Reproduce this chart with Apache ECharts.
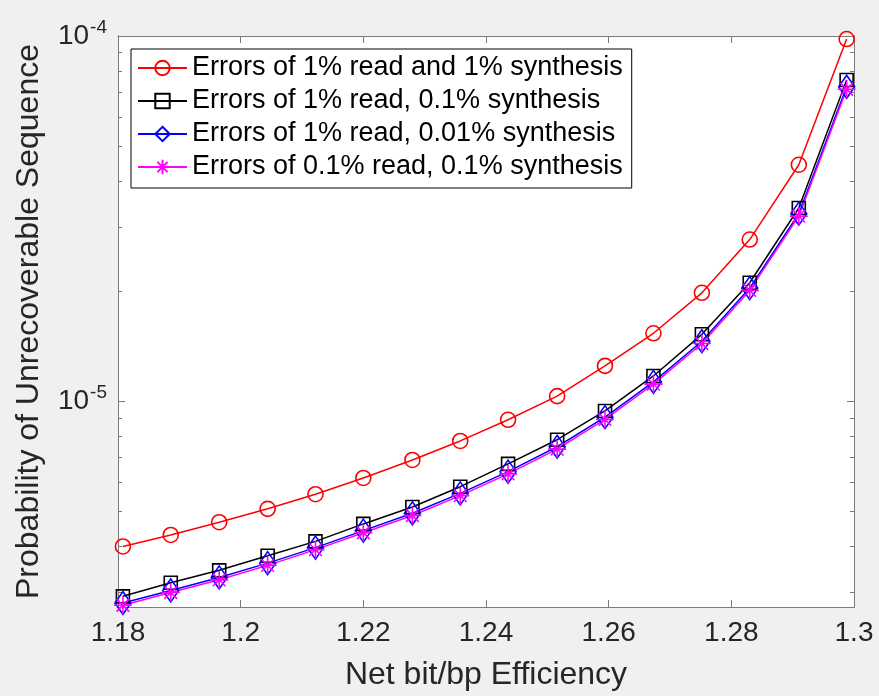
<!DOCTYPE html>
<html>
<head>
<meta charset="utf-8">
<script src="https://cdn.jsdelivr.net/npm/echarts@6/dist/echarts.min.js"></script>
<style>
  html, body { margin: 0; padding: 0; background: #f0f0f0; }
  #chart { width: 879px; height: 696px; }
</style>
</head>
<body>
<div id="chart"></div>
<script>
// net bit/bp efficiency (x)
const efficiency = [1.1808, 1.1886, 1.1965, 1.2044, 1.2122, 1.2200, 1.2280, 1.2358,
  1.2436, 1.2516, 1.2594, 1.2673, 1.2752, 1.2830, 1.2910, 1.2988];

// probability of unrecoverable sequence, one list per error setting
const read1Synth1 = [4.00e-6, 4.30e-6, 4.66e-6, 5.07e-6, 5.56e-6, 6.16e-6, 6.90e-6, 7.78e-6,
  8.89e-6, 1.032e-5, 1.249e-5, 1.534e-5, 1.98e-5, 2.77e-5, 4.44e-5, 9.81e-5];
const read1Synth01 = [2.92e-6, 3.18e-6, 3.44e-6, 3.77e-6, 4.13e-6, 4.61e-6, 5.13e-6, 5.83e-6,
  6.73e-6, 7.84e-6, 9.40e-6, 1.172e-5, 1.524e-5, 2.11e-5, 3.38e-5, 7.58e-5];
const read1Synth001 = [2.80e-6, 3.03e-6, 3.29e-6, 3.60e-6, 3.97e-6, 4.42e-6, 4.93e-6, 5.59e-6,
  6.41e-6, 7.50e-6, 9.04e-6, 1.129e-5, 1.459e-5, 2.04e-5, 3.26e-5, 7.26e-5];
const read01Synth01 = [2.76e-6, 2.99e-6, 3.24e-6, 3.55e-6, 3.92e-6, 4.36e-6, 4.86e-6, 5.51e-6,
  6.32e-6, 7.39e-6, 8.91e-6, 1.113e-5, 1.438e-5, 2.01e-5, 3.21e-5, 7.15e-5];

const seriesNames = [
  "Errors of 1% read and 1% synthesis",
  "Errors of 1% read, 0.1% synthesis",
  "Errors of 1% read, 0.01% synthesis",
  "Errors of 0.1% read, 0.1% synthesis",
];

// axis ticks
const xMin = 1.18, xMax = 1.3, xStep = 0.02;
const yMin = 2.73e-6, yMax = 1e-4;
const yMinorTicks = [3e-6, 4e-6, 5e-6, 6e-6, 7e-6, 8e-6, 9e-6,
  2e-5, 3e-5, 4e-5, 5e-5, 6e-5, 7e-5, 8e-5, 9e-5];

const FONT = "'Liberation Sans', Arial, Helvetica, sans-serif";
const AXIS_COLOR = "#7a7a7a";
const TEXT_COLOR = "#262626";

const chart = echarts.init(document.getElementById("chart"));

function toPairs(ys) {
  return efficiency.map((x, i) => [x, ys[i]]);
}

function makeSeries(name, ys, color, symbol, size) {
  return {
    name: name,
    type: "line",
    data: toPairs(ys),
    xAxisIndex: 0,
    yAxisIndex: 0,
    symbol: symbol,
    symbolSize: size,
    showAllSymbol: true,
    clip: false,
    lineStyle: { color: color, width: 1.5 },
    itemStyle: { color: "rgba(0,0,0,0)", borderColor: color, borderWidth: 1.6 },
    emphasis: { disabled: true },
    animation: false,
  };
}

const asterisk = "path://M0,-10L0,10M-10,0L10,0M-7.07,-7.07L7.07,7.07M-7.07,7.07L7.07,-7.07";

// y axis pieces, one for major ticks + labels, one for minor ticks
function logAxis(pos, withLabels, minor) {
  return {
    type: "log",
    logBase: 10,
    position: pos,
    min: yMin,
    max: yMax,
    axisLine: { show: true, lineStyle: { color: AXIS_COLOR, width: 1 } },
    axisTick: minor
      ? { show: true, inside: true, length: 4, customValues: yMinorTicks, lineStyle: { color: AXIS_COLOR } }
      : { show: true, inside: true, length: 7, lineStyle: { color: AXIS_COLOR } },
    axisLabel: withLabels
      ? {
          show: true,
          showMinLabel: false,
          margin: 11,
          formatter: (v) => "{b|10}{s|" + Math.round(Math.log10(v)) + "}",
          rich: {
            b: { fontFamily: FONT, fontSize: 28, color: TEXT_COLOR },
            s: { fontFamily: FONT, fontSize: 19, color: TEXT_COLOR, padding: [0, 0, 16, 1] },
          },
        }
      : { show: false },
    splitLine: { show: false },
    minorTick: { show: false },
  };
}

chart.setOption({
  backgroundColor: "#f0f0f0",
  animation: false,
  grid: {
    left: 118,
    right: 25,
    top: 36,
    bottom: 88,
    show: true,
    backgroundColor: "#ffffff",
    borderWidth: 0,
  },
  legend: {
    orient: "vertical",
    left: 131,
    top: 49,
    padding: [4, 9, 6, 6],
    itemGap: 3,
    itemWidth: 49,
    itemHeight: 18,
    backgroundColor: "#ffffff",
    borderColor: "#000000",
    borderWidth: 1,
    borderRadius: 0,
    textStyle: { fontFamily: FONT, fontSize: 27, color: "#000000", lineHeight: 30 },
    data: seriesNames,
  },
  xAxis: [
    {
      type: "value",
      position: "bottom",
      min: xMin,
      max: xMax,
      interval: xStep,
      name: "Net bit/bp Efficiency",
      nameLocation: "middle",
      nameGap: 52,
      nameTextStyle: { fontFamily: FONT, fontSize: 32, color: TEXT_COLOR },
      axisLine: { show: true, lineStyle: { color: AXIS_COLOR, width: 1 } },
      axisTick: { show: true, inside: true, length: 7, lineStyle: { color: AXIS_COLOR } },
      axisLabel: { fontFamily: FONT, fontSize: 28, color: TEXT_COLOR, margin: 12 },
      splitLine: { show: false },
    },
    {
      type: "value",
      position: "top",
      min: xMin,
      max: xMax,
      interval: xStep,
      axisLine: { show: true, lineStyle: { color: AXIS_COLOR, width: 1 } },
      axisTick: { show: true, inside: true, length: 7, lineStyle: { color: AXIS_COLOR } },
      axisLabel: { show: false },
      splitLine: { show: false },
    },
  ],
  yAxis: [
    Object.assign(logAxis("left", true, false), {
      name: "Probability of Unrecoverable Sequence",
      nameLocation: "middle",
      nameGap: 73,
      nameRotate: 90,
      nameTextStyle: { fontFamily: FONT, fontSize: 32, color: TEXT_COLOR },
    }),
    logAxis("left", false, true),
    logAxis("right", false, false),
    logAxis("right", false, true),
  ],
  series: [
    makeSeries(seriesNames[0], read1Synth1, "#ff0000", "circle", 15),
    makeSeries(seriesNames[1], read1Synth01, "#000000", "rect", 13),
    makeSeries(seriesNames[2], read1Synth001, "#0000ff", "diamond", [16, 23]),
    makeSeries(seriesNames[3], read01Synth01, "#ff00ff", asterisk, 18),
  ],
});
</script>
</body>
</html>
